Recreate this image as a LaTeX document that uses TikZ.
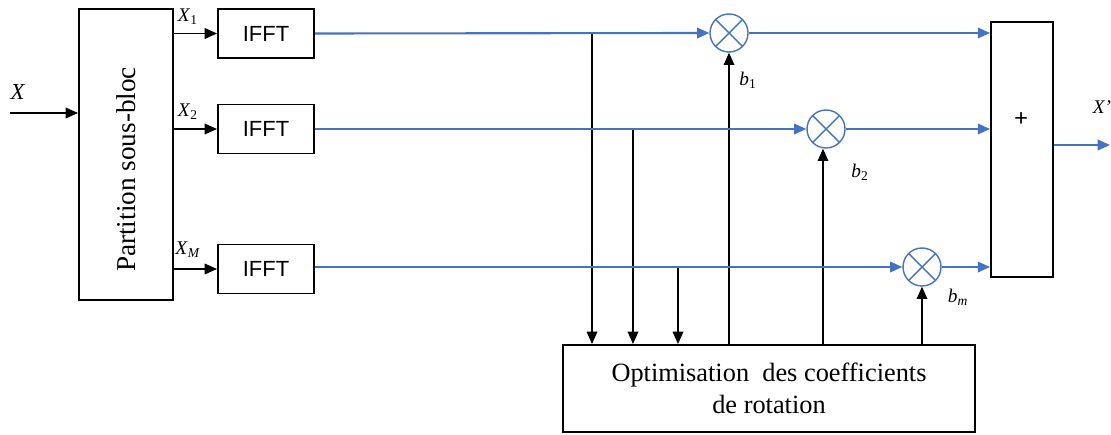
\documentclass[tikz,border=0pt]{standalone}
\usepackage{fontspec}
\setmainfont{Liberation Serif}
\newfontfamily\ifftfont{Liberation Sans}
\usepackage{xcolor}
\usetikzlibrary{arrows.meta}
\definecolor{lineblue}{RGB}{68,114,196}
\tikzset{
  mult/.style={
    circle,draw=lineblue,line width=0.8pt,minimum size=0.76cm,inner sep=0pt,
    path picture={
      \draw[lineblue,line width=0.8pt]
        ([shift={(45:0.38cm)}]path picture bounding box.center) --
        ([shift={(225:0.38cm)}]path picture bounding box.center)
        ([shift={(135:0.38cm)}]path picture bounding box.center) --
        ([shift={(315:0.38cm)}]path picture bounding box.center);
    }
  },
  lbl/.style={font=\fontsize{11}{13}\selectfont,inner sep=0pt}
}

\begin{document}
\begin{tikzpicture}[x=0.02cm,y=-0.02cm]
        \useasboundingbox (0,0) rectangle (1111,435);
        \begin{scope}[every node/.style={draw,line width=1.1pt,inner sep=0pt}]
            \node[minimum width=1.88cm,minimum height=5.82cm] (part) at (126,154.5)
                {\rotatebox{90}{\fontsize{15.5}{18}\selectfont Partition sous-bloc\hspace*{0.6cm}}};

            \node[minimum width=1.92cm,minimum height=0.98cm,font=\ifftfont\fontsize{12.5}{14}\selectfont] (ifft1) at (266,33.5) {IFFT};
            \node[minimum width=1.92cm,minimum height=0.98cm,font=\ifftfont\fontsize{12.5}{14}\selectfont] (ifft2) at (266,129) {IFFT};
            \node[minimum width=1.92cm,minimum height=0.98cm,font=\ifftfont\fontsize{12.5}{14}\selectfont] (ifftm) at (266,269) {IFFT};

            \node[minimum width=1.24cm,minimum height=5.1cm] (sum) at (1022,149.5) {};
            \node[minimum width=8.24cm,minimum height=1.74cm,align=center,font=\fontsize{15}{18}\selectfont] (opt) at (769,388.5)
                {Optimisation\ \ des coefficients\\de rotation};
        \end{scope}

        \node[mult] (m1) at (729,33) {};
        \node[mult] (m2) at (826,129) {};
        \node[mult] (mm) at (922,267) {};

        \node[font=\fontsize{14}{16}\selectfont\bfseries] (plus) at (1021,120) {+};

        % signal labels
        \node[font=\fontsize{13}{15}\selectfont] (lx) at (18,92) {\textit{X}};
        \node[lbl] (lx1) at (188,17) {\textit{X}\textsubscript{1}};
        \node[lbl] (lx2) at (188,112) {\textit{X}\textsubscript{2}};
        \node[lbl] (lxm) at (188,250) {\textit{X}\textsubscript{\textit{M}}};
        \node[lbl] (lb1) at (748,80) {\textit{b}\textsubscript{1}};
        \node[lbl] (lb2) at (860,172) {\textit{b}\textsubscript{2}};
        \node[lbl] (lbm) at (958,297) {\textit{b}\textsubscript{\textit{m}}};
        \node[lbl] (lxo) at (1102,107) {\textit{X'}};

        \coordinate (in) at (10,113);
        \coordinate (out) at (1110,145);
        \coordinate (t1) at (592,33);
        \coordinate (t2) at (633,129);
        \coordinate (tm) at (678,267);

        \begin{scope}[>={Triangle[length=7pt,width=6pt]}, every edge/.style={draw,line width=0.9pt}]
            \path [->] (in) edge (in -| part.west);

            \path [->] (part.east |- ifft1) edge (ifft1.west);
            \path [->] (part.east |- ifft2) edge (ifft2.west);
            \path [->] (part.east |- ifftm) edge (ifftm.west);

            \path [->] (t1) edge (t1 |- opt.north);
            \path [->] (t2) edge (t2 |- opt.north);
            \path [->] (tm) edge (tm |- opt.north);

            \path [->] (opt.north -| m1) edge (m1.south);
            \path [->] (opt.north -| 823,0) edge (823,0 |- m2.south);
            \path [->] (opt.north -| mm) edge (mm.south);
        \end{scope}

        \begin{scope}[>={Triangle[length=7pt,width=6pt]}, every edge/.style={draw=lineblue,line width=1.2pt}]
            \path [->] (ifft1.east) edge (m1.west);
            \path [->] (ifft2.east |- m2) edge (m2.west);
            \path [->] (ifftm.east |- mm) edge (mm.west);

            \path [->] (m1.east) edge (m1 -| sum.west);
            \path [->] (m2.east) edge (m2 -| sum.west);
            \path [->] (mm.east) edge (mm -| sum.west);

            \path [->] (sum.east |- out) edge (out);
        \end{scope}
    \end{tikzpicture}
\end{document}
